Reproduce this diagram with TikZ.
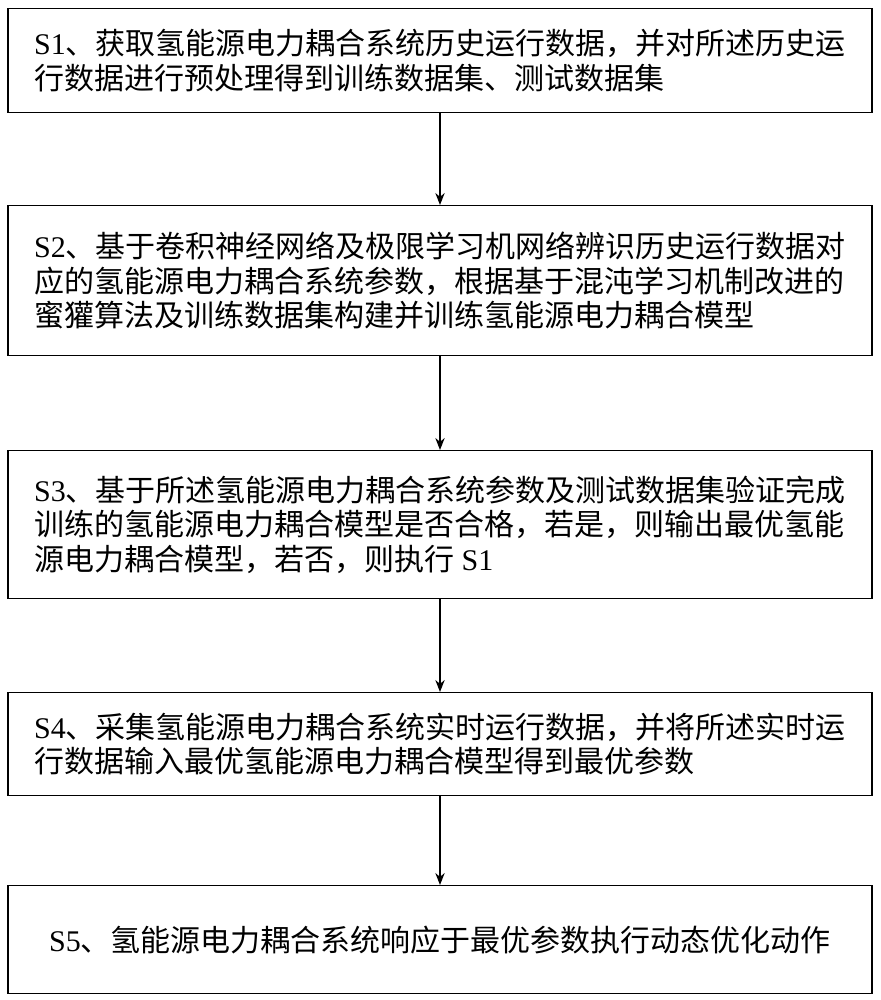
\documentclass[tikz,border=0pt]{standalone}
\usepackage{fontspec}
\setmainfont{Liberation Serif}
\newfontfamily\cjk{Noto Sans CJK SC}
\usetikzlibrary{arrows.meta}
\begin{document}
\begin{tikzpicture}[x=0.75pt,y=-0.75pt,
 box/.style={draw,line width=1pt,minimum width=864*0.75pt,anchor=north,inner sep=0pt},
 txt/.style={font=\fontsize{22.5pt}{26pt}\selectfont,align=left},
 arr/.style={-{Stealth[length=9pt,width=7pt]},line width=1pt}]
\useasboundingbox (0,0) rectangle (881,1000);
\node[box,minimum height=104*0.75pt] (s1) at (440,8) {};
\node[txt] at (s1.center) {S1{\cjk、获取氢能源电力耦合系统历史运行数据，并对所述历史运}\\{\cjk 行数据进行预处理得到训练数据集、测试数据集}\hspace{5.2em}};
\node[box,minimum height=150*0.75pt] (s2) at (440,205) {};
\node[txt] at (s2.center) {S2{\cjk、基于卷积神经网络及极限学习机网络辨识历史运行数据对}\\{\cjk 应的氢能源电力耦合系统参数，根据基于混沌学习机制改进的}\\{\cjk 蜜獾算法及训练数据集构建并训练氢能源电力耦合模型}\hspace{1em}};
\node[box,minimum height=148*0.75pt] (s3) at (440,450) {};
\node[txt] at (s3.center) {S3{\cjk、基于所述氢能源电力耦合系统参数及测试数据集验证完成}\\{\cjk 训练的氢能源电力耦合模型是否合格，若是，则输出最优氢能}\\{\cjk 源电力耦合模型，若否，则执行} S1\hspace{12.5em}};
\node[box,minimum height=103*0.75pt] (s4) at (440,692) {};
\node[txt] at (s4.center) {S4{\cjk、采集氢能源电力耦合系统实时运行数据，并将所述实时运}\\{\cjk 行数据输入最优氢能源电力耦合模型得到最优参数}\hspace{3.6em}};
\node[box,minimum height=108*0.75pt] (s5) at (440,885) {};
\node[txt] at (s5.center) {S5{\cjk、氢能源电力耦合系统响应于最优参数执行动态优化动作}};
\draw[arr] (s1) -- (s2);
\draw[arr] (s2) -- (s3);
\draw[arr] (s3) -- (s4);
\draw[arr] (s4) -- (s5);
\end{tikzpicture}
\end{document}
